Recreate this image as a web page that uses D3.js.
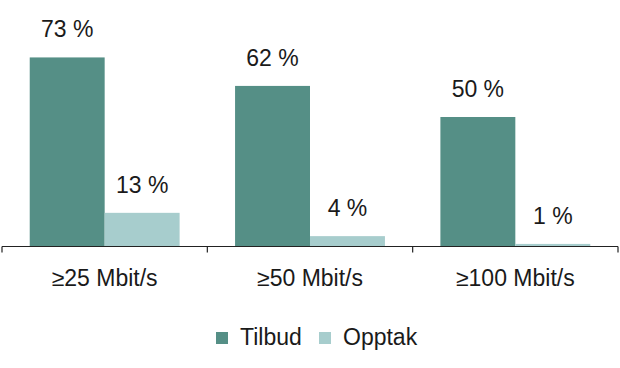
<!DOCTYPE html>
<html lang="en">
<head>
  <meta charset="UTF-8">
  <title>Tilbud og opptak</title>
</head>
<style>
  body {
    margin: 0;
    background: #fff;
  }
  svg {
    display: block;
    font-family: "Liberation Sans", Arial, sans-serif;
  }
</style>
<body>
<svg width="620" height="368"></svg>
<script src="https://cdn.jsdelivr.net/npm/d3@7"></script>
<script>
  const categories = ['≥25 Mbit/s', '≥50 Mbit/s', '≥100 Mbit/s'];
  const seriesNames = ['Tilbud', 'Opptak'];
  const tilbud = [73, 62, 50];
  const opptak = [13, 4, 1];
  const colors = ['#558f86', '#a7cdcd'];

  const svg = d3.select('svg');
  const baseY = 246.5;

  const x = d3.scaleBand().domain(categories).range([2, 618]).padding(0);
  const xs = d3.scaleBand().domain(seriesNames).range([0, x.bandwidth()]).paddingInner(0).paddingOuter(0.37);
  const y = d3.scaleLinear().domain([0, 100]).range([baseY, baseY - 259]);

  const rows = categories.map((c, i) => ({cat: c, vals: [tilbud[i], opptak[i]]}));

  const groups = svg.append('g').selectAll('g').data(rows).join('g')
    .attr('transform', d => `translate(${x(d.cat)},0)`);

  groups.selectAll('rect')
    .data(d => d.vals.map((v, j) => ({name: seriesNames[j], v: v, j: j})))
    .join('rect')
    .attr('x', d => xs(d.name))
    .attr('width', xs.bandwidth())
    .attr('y', d => y(d.v))
    .attr('height', d => y(0) - y(d.v))
    .attr('fill', d => colors[d.j]);

  groups.selectAll('text.val')
    .data(d => d.vals.map((v, j) => ({name: seriesNames[j], v: v})))
    .join('text')
    .attr('class', 'val')
    .attr('x', d => xs(d.name) + xs.bandwidth() / 2)
    .attr('y', d => y(d.v) - 20)
    .attr('text-anchor', 'middle')
    .style('font-size', '23px')
    .style('fill', '#1a1a1a')
    .text(d => d.v + ' %');

  // x axis with ticks at category boundaries
  const axis = svg.append('g');
  axis.append('line')
    .attr('x1', 2).attr('x2', 618)
    .attr('y1', baseY).attr('y2', baseY)
    .attr('stroke', '#222').attr('stroke-width', 1.2);
  const bounds = categories.map(c => x(c)).concat([x.range()[1]]);
  axis.selectAll('line.tick').data(bounds).join('line')
    .attr('class', 'tick')
    .attr('x1', d => d).attr('x2', d => d)
    .attr('y1', baseY).attr('y2', baseY + 6)
    .attr('stroke', '#222').attr('stroke-width', 1.2);
  axis.selectAll('text').data(categories).join('text')
    .attr('x', d => x(d) + x.bandwidth() / 2)
    .attr('y', 286)
    .attr('text-anchor', 'middle')
    .style('font-size', '23px')
    .style('fill', '#1a1a1a')
    .text(d => d);

  // legend
  const legendX = [216, 319];
  const legend = svg.append('g').selectAll('g').data(seriesNames).join('g')
    .attr('transform', (d, i) => `translate(${legendX[i]},332)`);
  legend.append('rect')
    .attr('width', 12).attr('height', 12)
    .attr('fill', (d, i) => colors[i]);
  legend.append('text')
    .attr('x', 24).attr('y', 13)
    .style('font-size', '23px')
    .style('fill', '#1a1a1a')
    .text(d => d);
</script>
</body>
</html>
